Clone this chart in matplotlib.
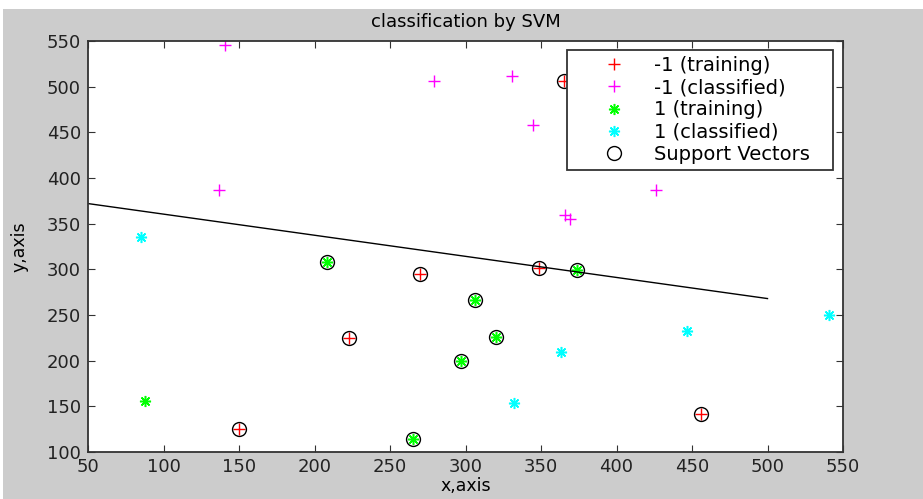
import numpy as np
from matplotlib import pyplot as plt
from matplotlib.patches import Rectangle

plt.rcParams['font.family'] = ['DejaVu Sans']

# -1 training points (all of them are support vectors)
neg_train_x = [365, 270, 223, 150, 349, 456]
neg_train_y = [506, 295, 225, 125, 302, 142]

# -1 classified points
neg_cls_x = [141, 137, 279, 331, 345, 366, 369, 426]
neg_cls_y = [546, 387, 506, 512, 458, 360, 355, 387]

# 1 training points
pos_train_x = [208, 306, 320, 297, 265, 374, 88]
pos_train_y = [308, 266, 226, 200, 114, 299, 156]

# 1 classified points
pos_cls_x = [85, 332, 363, 447, 541]
pos_cls_y = [335, 154, 210, 233, 250]

# support vectors
sv_x = [365, 270, 223, 150, 349, 456, 208, 306, 320, 297, 265, 374]
sv_y = [506, 295, 225, 125, 302, 142, 308, 266, 226, 200, 114, 299]

# separating line
line_x = [50, 500]
line_y = [372, 268]

fig = plt.figure(figsize=(9.23, 4.99), dpi=100, facecolor="white")
fig.add_artist(Rectangle((3 / 923, 0), 1, 490 / 499, transform=fig.transFigure,
                         facecolor="#cccccc", edgecolor="none", zorder=-1))
ax = fig.add_axes([88 / 923, 47 / 499, 755 / 923, 411 / 499])

star = (8, 2, 0)
ax.plot(neg_train_x, neg_train_y, "+", color="#ff0000", ms=9, mew=1, label="-1 (training)")
ax.plot(neg_cls_x, neg_cls_y, "+", color="#ff00ff", ms=9, mew=1, label="-1 (classified)")
ax.plot(pos_train_x, pos_train_y, ls="none", marker=star, color="#00ff00", ms=8, mew=1.1,
        label="1 (training)")
ax.plot(pos_cls_x, pos_cls_y, ls="none", marker=star, color="#00ffff", ms=8, mew=1.1,
        label="1 (classified)")
ax.plot(sv_x, sv_y, "o", mfc="none", mec="black", ms=10, mew=1, label="Support Vectors")
ax.plot(line_x, line_y, color="black", lw=1)

ax.set_xlim(50, 550)
ax.set_ylim(100, 550)
ax.set_xticks(np.arange(50, 551, 50))
ax.set_yticks(np.arange(100, 551, 50))
ax.tick_params(direction="in", length=5, top=True, right=True, labelsize=13,
               colors="#333333", labelcolor="#222222")
ax.tick_params(axis="y", pad=5)
ax.tick_params(axis="x", pad=4)
for s in ax.spines.values():
    s.set_linewidth(1.3)
    s.set_color("#333333")

ax.set_title("classification by SVM", fontsize=13, pad=10)
ax.set_xlabel("x,axis", fontsize=12.5, labelpad=1)
ax.set_ylabel("y,axis", fontsize=12.5, labelpad=13)

leg = ax.legend(loc="upper right", bbox_to_anchor=(479 / 755, 0, 266 / 755, 402 / 411),
                mode="expand", borderaxespad=0,
                fancybox=False, framealpha=1, edgecolor="#333333", fontsize=14,
                handlelength=4.2, handletextpad=0.0, labelspacing=0.17, borderpad=0.3)
leg.get_frame().set_linewidth(1.3)

fig.savefig("out.png", dpi=100, facecolor=fig.get_facecolor())
